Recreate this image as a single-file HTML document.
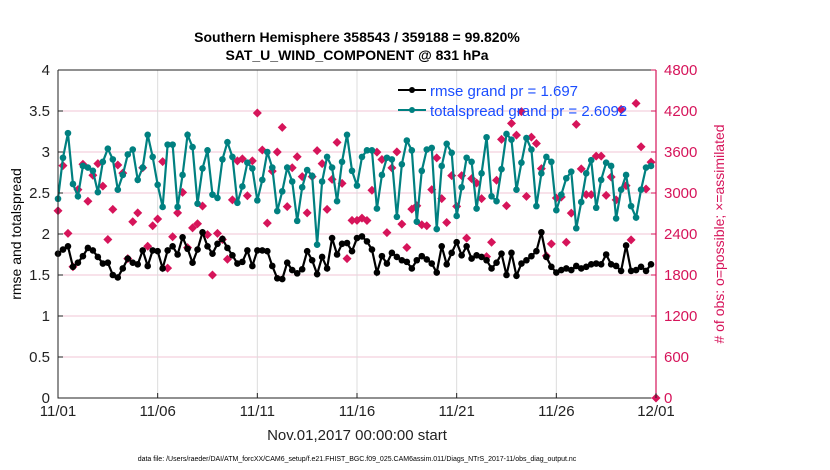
<!DOCTYPE html>
<html><head><meta charset="utf-8">
<style>
html,body{margin:0;padding:0;background:#fff;}
svg{display:block;font-family:"Liberation Sans",Arial,sans-serif;}
</style></head>
<body>
<svg id="chart" width="830" height="470" viewBox="0 0 830 470" xmlns="http://www.w3.org/2000/svg">
  <text x="357" y="42" text-anchor="middle" font-size="14" font-weight="bold" fill="#000">Southern Hemisphere 358543 / 359188 = 99.820%</text>
  <text x="357" y="60" text-anchor="middle" font-size="14" font-weight="bold" fill="#000">SAT_U_WIND_COMPONENT @ 831 hPa</text>
  <g id="grid"></g>
  <g id="series"></g>
  <g id="axes"></g>
  <text transform="translate(21,234) rotate(-90)" text-anchor="middle" font-size="14" fill="#000">rmse and totalspread</text>
  <text transform="translate(724,234) rotate(-90)" text-anchor="middle" font-size="14" fill="#d6145a"># of obs: o=possible; ×=assimilated</text>
  <text x="357" y="440" text-anchor="middle" font-size="15" fill="#222">Nov.01,2017 00:00:00 start</text>
  <text x="357" y="461" text-anchor="middle" font-size="7" fill="#000">data file: /Users/raeder/DAI/ATM_forcXX/CAM6_setup/f.e21.FHIST_BGC.f09_025.CAM6assim.011/Diags_NTrS_2017-11/obs_diag_output.nc</text>
  <g id="legend">
    <g>
      <line x1="398" y1="90" x2="426" y2="90" stroke="#000" stroke-width="2"/>
      <circle cx="412" cy="90" r="3" fill="#000"/>
      <text x="430" y="96" font-size="15" fill="#1a4dff">rmse grand pr = 1.697</text>
    </g>
    <g>
      <line x1="398" y1="110" x2="426" y2="110" stroke="#008080" stroke-width="2"/>
      <circle cx="412" cy="110" r="3" fill="#008080"/>
      <text x="430" y="116" font-size="15" fill="#1a4dff">totalspread grand pr = 2.6092</text>
    </g>
  </g>
</svg>
<script>
const xTickLabels = ["11/01","11/06","11/11","11/16","11/21","11/26","12/01"];
const yTicksLeft = [0,0.5,1,1.5,2,2.5,3,3.5,4];
const yTicksRight = [0,600,1200,1800,2400,3000,3600,4200,4800];
const totalspread = [2.43,2.93,3.23,2.61,2.46,2.83,2.81,2.77,2.51,2.88,3.04,2.91,2.54,2.72,2.97,3.03,2.66,2.81,3.21,2.94,2.60,2.33,3.09,3.09,2.33,2.72,3.21,3.06,2.37,2.80,3.02,2.48,2.44,2.91,3.12,2.94,2.38,2.58,2.87,2.80,2.41,2.66,3.00,2.81,2.28,2.52,2.81,2.64,2.16,2.57,2.78,2.71,1.87,2.64,2.94,2.81,2.40,2.88,3.21,2.77,2.59,
2.94,3.02,3.02,2.31,2.72,2.93,2.91,2.21,2.85,3.14,3.02,2.15,2.77,3.03,3.05,2.06,2.83,3.10,2.99,2.22,2.57,2.93,2.88,2.31,2.74,3.18,2.46,2.40,2.79,3.22,3.15,2.54,2.87,3.17,3.03,2.34,2.74,2.94,2.88,2.29,2.48,2.68,2.76,2.07,2.39,2.74,2.90,2.32,2.66,2.87,2.83,2.19,2.54,2.72,2.34,2.20,2.54,2.81,2.83];
const rmse = [1.76,1.81,1.85,1.60,1.65,1.73,1.83,1.80,1.72,1.64,1.65,1.50,1.47,1.58,1.70,1.65,1.63,1.80,1.61,1.80,1.79,1.58,1.80,1.85,1.75,1.96,1.82,1.65,1.81,2.02,1.85,1.76,1.88,1.94,1.83,1.74,1.64,1.66,1.80,1.61,1.80,1.80,1.79,1.61,1.46,1.45,1.65,1.56,1.52,1.57,1.79,1.68,1.51,1.72,1.58,1.95,1.75,1.88,1.89,1.79,1.95,
1.97,1.91,1.81,1.53,1.73,1.64,1.77,1.72,1.68,1.66,1.58,1.68,1.73,1.69,1.64,1.53,1.85,1.63,1.77,1.90,1.74,1.85,1.70,1.74,1.72,1.68,1.58,1.65,1.76,1.50,1.77,1.49,1.64,1.68,1.73,1.79,2.02,1.72,1.60,1.53,1.56,1.58,1.56,1.61,1.58,1.60,1.63,1.64,1.63,1.75,1.63,1.61,1.55,1.86,1.55,1.56,1.60,1.55,1.63];
const obsCount = [2740,3400,2410,1920,3050,3420,2880,3260,3430,3100,2320,2760,3410,3290,2040,2580,2710,3370,2220,2520,2620,3460,1900,2360,2710,3010,2200,2490,2550,2810,2390,1800,2410,2320,2030,2900,3470,3500,2960,3470,4170,3630,2560,3320,3600,3960,2800,3370,3530,3240,2710,3240,3620,3430,2760,3200,3740,3140,2040,2600,2600,
2633,2598,3040,3598,3490,2421,3367,3602,2544,2202,2764,2814,2535,2520,3049,3514,2917,2569,3255,2804,3255,2339,3211,3147,2917,2069,2280,3186,3784,2814,4019,3847,4190,2950,3818,3725,3357,2079,2256,2927,2941,2280,2706,4004,3353,2976,2976,3539,3539,2965,3235,2900,4224,3108,2314,4312,3676,3059,3451,0];

const X0=58, X1=656, Y0=398, Y1=70, NSTEPS=120;
const xOf = i => X0 + (X1-X0)*i/NSTEPS;
const yL = v => Y0 - (Y0-Y1)*v/4;
const yR = v => Y0 - (Y0-Y1)*v/4800;
const NS="http://www.w3.org/2000/svg";
function mk(tag, attrs, parent){const e=document.createElementNS(NS,tag);for(const k in attrs)e.setAttribute(k,attrs[k]);parent.appendChild(e);return e;}
const grid=document.getElementById('grid'), axes=document.getElementById('axes'), series=document.getElementById('series');

yTicksRight.forEach((v,i)=>{ if(i===0||i===yTicksRight.length-1) return;
  const l=mk('line',{x1:X0,x2:X1,y1:yR(v),y2:yR(v),stroke:'#f2c6d6','stroke-width':1},grid);
  
  
});
xTickLabels.forEach((t,i)=>{ if(i===0||i===xTickLabels.length-1) return;
  const x=X0+(X1-X0)*i/(xTickLabels.length-1);
  const l=mk('line',{x1:x,x2:x,y1:Y1,y2:Y0,stroke:'#dcdcdc','stroke-width':1},grid);
  
  
});

const frame=mk('path',{d:`M${X0},${Y1} L${X0},${Y0} L${X1},${Y0} M${X0},${Y1} L${X1},${Y1}`,stroke:'#222',fill:'none','stroke-width':1},axes);


const rax=mk('line',{x1:X1,x2:X1,y1:Y1,y2:Y0,stroke:'#d6145a','stroke-width':1.2},axes);


yTicksLeft.forEach(v=>{
  mk('line',{x1:X0,x2:X0+5,y1:yL(v),y2:yL(v),stroke:'#222'},axes);
  const t=mk('text',{x:X0-8,y:yL(v)+5,'text-anchor':'end','font-size':15,fill:'#222'},axes);
  t.textContent=String(v);
  
  
});
yTicksRight.forEach(v=>{
  mk('line',{x1:X1-5,x2:X1,y1:yR(v),y2:yR(v),stroke:'#d6145a'},axes);
  const t=mk('text',{x:X1+8,y:yR(v)+5,'font-size':15,fill:'#d6145a'},axes);
  t.textContent=String(v);
  
  
});
xTickLabels.forEach((lab,i)=>{
  const x=X0+(X1-X0)*i/(xTickLabels.length-1);
  mk('line',{x1:x,x2:x,y1:Y0,y2:Y0-5,stroke:'#222'},axes);
  const t=mk('text',{x:x,y:Y0+18,'text-anchor':'middle','font-size':15,fill:'#222'},axes);
  t.textContent=lab;
  
  
});

obsCount.forEach((v,i)=>{
  const x=xOf(i), y=yR(v);
  const d=mk('path',{d:`M${x},${y-4.5} L${x+4.5},${y} L${x},${y+4.5} L${x-4.5},${y} Z`,fill:'#d6145a'},series);
  
  
});
function drawLine(vals,color,name){
  const pts=vals.map((v,i)=>`${xOf(i).toFixed(2)},${yL(v).toFixed(2)}`).join(' ');
  const pl=mk('polyline',{points:pts,fill:'none',stroke:color,'stroke-width':2.2},series);
  
  
  vals.forEach((v,i)=>{
    const c=mk('circle',{cx:xOf(i),cy:yL(v),r:3.3,fill:color},series);
    
    
  });
}
drawLine(totalspread,'#008080','totalspread');
drawLine(rmse,'#000000','rmse');
document.getElementById('chart').appendChild(document.getElementById('legend'));
</script>
</body></html>
